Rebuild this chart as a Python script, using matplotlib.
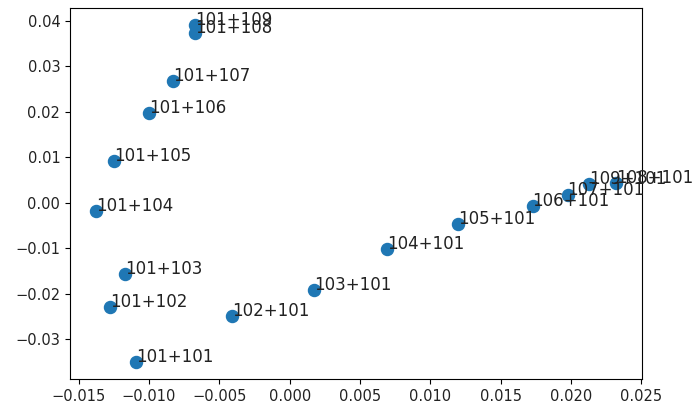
import matplotlib
matplotlib.use("Agg")
import matplotlib.pyplot as plt

labels = ["101+101", "101+102", "101+103", "101+104", "101+105", "101+106",
          "101+107", "101+108", "101+109",
          "102+101", "103+101", "104+101", "105+101", "106+101", "107+101",
          "108+101", "109+101"]
x_vals = [-0.01091, -0.01276, -0.01169, -0.01376, -0.01248, -0.00998,
          -0.00827, -0.00670, -0.00670,
          -0.00406, 0.00171, 0.00692, 0.01198, 0.01726, 0.01975,
          0.02317, 0.02125]
y_vals = [-0.0351, -0.0230, -0.0156, -0.00176, 0.00922, 0.01975,
          0.02677, 0.0373, 0.0391,
          -0.0250, -0.0193, -0.0103, -0.0048, -0.00066, 0.00176,
          0.0044, 0.0042]

fig = plt.figure(figsize=(6.93, 4.08), dpi=100)
ax = fig.add_axes([0.101, 0.071, 0.825, 0.909])
ax.scatter(x_vals, y_vals, s=75, color="#1f77b4")
for lab, xv, yv in zip(labels, x_vals, y_vals):
    ax.text(xv, yv, lab, fontsize=12, color="#222222")
ax.tick_params(labelsize=10.5, labelcolor="#222222")
fig.savefig("out.png", dpi=100)
